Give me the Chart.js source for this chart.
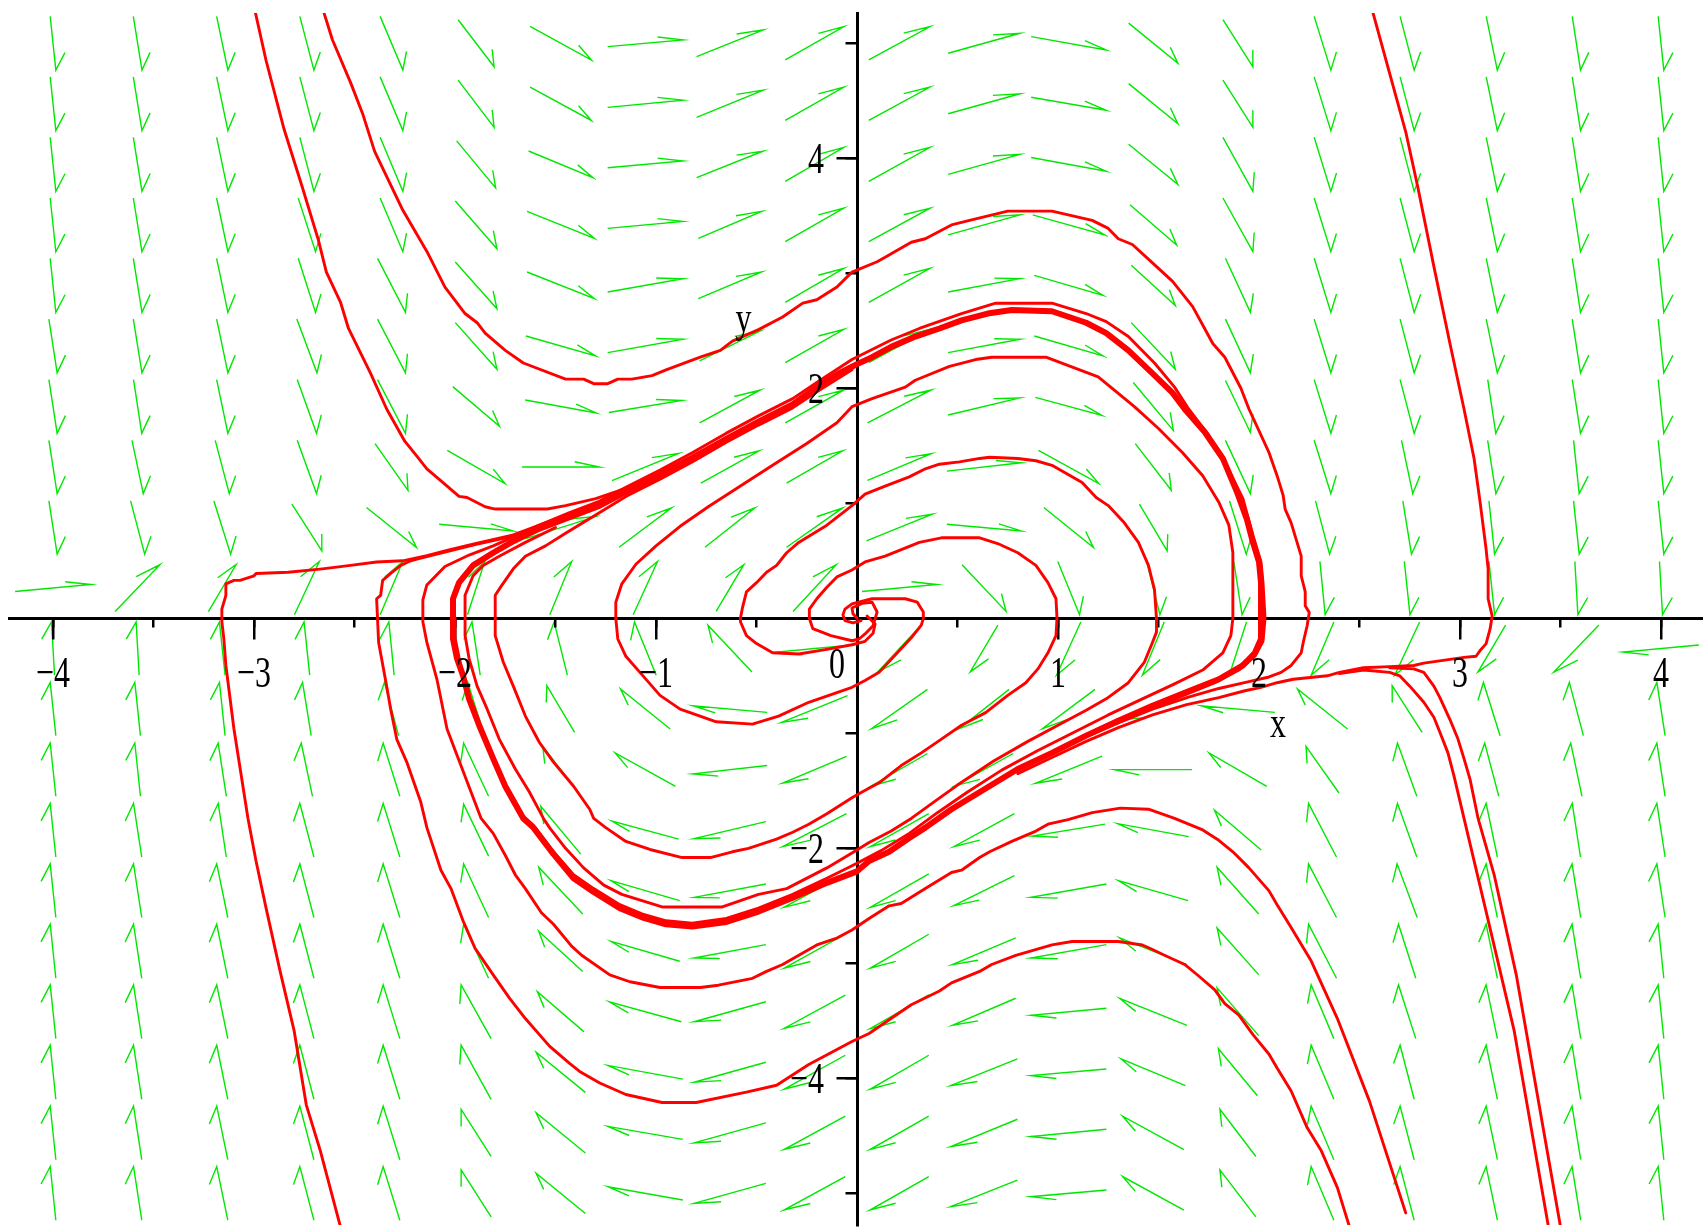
<!DOCTYPE html>
<html>
<head>
<meta charset="utf-8">
<script src="https://cdn.jsdelivr.net/npm/chart.js@4.4.1/dist/chart.umd.min.js"></script>
<style>
  html, body { margin: 0; padding: 0; background: #fff; }
  canvas { display: block; }
</style>
</head>
<body>
<canvas id="phase" width="1703" height="1227"></canvas>
<script>
// phase portrait: direction field (green) + trajectories (red)

// field grid
const gridX = [-4, -3.579, -3.158, -2.737, -2.316, -1.895, -1.474, -1.053, -0.632, -0.211, 0.211, 0.632, 1.053, 1.474, 1.895, 2.316, 2.737, 3.158, 3.579, 4];
const gridY = [5, 4.474, 3.947, 3.421, 2.895, 2.368, 1.842, 1.316, 0.789, 0.263, -0.263, -0.789, -1.316, -1.842, -2.368, -2.895, -3.421, -3.947, -4.474, -5];

// arrow components per row (top row first)
const fieldU = [
  [0.028,0.043,0.056,0.070,0.113,0.179,0.305,0.375,0.332,0.292,0.305,0.357,0.373,0.245,0.149,0.083,0.070,0.055,0.041,0.028],
  [0.028,0.043,0.056,0.070,0.113,0.179,0.305,0.375,0.332,0.292,0.305,0.357,0.373,0.245,0.149,0.083,0.070,0.055,0.041,0.028],
  [0.028,0.043,0.056,0.070,0.113,0.194,0.320,0.375,0.332,0.292,0.305,0.357,0.373,0.245,0.149,0.083,0.070,0.055,0.041,0.028],
  [0.028,0.043,0.056,0.086,0.113,0.207,0.335,0.375,0.315,0.292,0.305,0.357,0.358,0.232,0.149,0.083,0.070,0.055,0.041,0.028],
  [0.028,0.043,0.056,0.086,0.139,0.207,0.335,0.375,0.315,0.292,0.305,0.357,0.342,0.219,0.124,0.083,0.070,0.055,0.041,0.028],
  [0.041,0.043,0.056,0.100,0.139,0.207,0.347,0.375,0.302,0.292,0.305,0.357,0.342,0.219,0.124,0.083,0.070,0.055,0.041,0.028],
  [0.041,0.041,0.056,0.096,0.139,0.232,0.353,0.363,0.302,0.292,0.317,0.357,0.332,0.199,0.124,0.083,0.070,0.040,0.041,0.028],
  [0.041,0.056,0.070,0.096,0.164,0.287,0.385,0.332,0.290,0.279,0.317,0.370,0.300,0.179,0.124,0.083,0.056,0.041,0.028,0.028],
  [0.041,0.070,0.083,0.149,0.249,0.368,0.348,0.262,0.249,0.279,0.328,0.370,0.247,0.138,0.083,0.070,0.043,0.028,0.028,0.028],
  [0.377,0.224,0.138,0.124,0.113,0.086,0.109,0.121,0.138,0.215,0.372,0.219,0.108,0.066,0.041,0.026,0.028,0.028,0.015,0.015],
  [-0.015,-0.015,-0.028,-0.028,-0.026,-0.041,-0.066,-0.108,-0.219,-0.372,-0.215,-0.138,-0.121,-0.109,-0.086,-0.113,-0.124,-0.138,-0.224,-0.377],
  [-0.028,-0.028,-0.028,-0.043,-0.070,-0.083,-0.138,-0.247,-0.370,-0.328,-0.279,-0.249,-0.262,-0.348,-0.368,-0.249,-0.149,-0.083,-0.070,-0.041],
  [-0.028,-0.028,-0.041,-0.056,-0.083,-0.124,-0.179,-0.300,-0.370,-0.317,-0.279,-0.290,-0.332,-0.385,-0.287,-0.164,-0.096,-0.070,-0.056,-0.041],
  [-0.028,-0.041,-0.040,-0.070,-0.083,-0.124,-0.199,-0.332,-0.357,-0.317,-0.292,-0.302,-0.363,-0.353,-0.232,-0.139,-0.096,-0.056,-0.041,-0.041],
  [-0.028,-0.041,-0.055,-0.070,-0.083,-0.124,-0.219,-0.342,-0.357,-0.305,-0.292,-0.302,-0.375,-0.347,-0.207,-0.139,-0.100,-0.056,-0.043,-0.041],
  [-0.028,-0.041,-0.055,-0.070,-0.083,-0.124,-0.219,-0.342,-0.357,-0.305,-0.292,-0.315,-0.375,-0.335,-0.207,-0.139,-0.086,-0.056,-0.043,-0.028],
  [-0.028,-0.041,-0.055,-0.070,-0.083,-0.149,-0.232,-0.358,-0.357,-0.305,-0.292,-0.315,-0.375,-0.335,-0.207,-0.113,-0.086,-0.056,-0.043,-0.028],
  [-0.028,-0.041,-0.055,-0.070,-0.083,-0.149,-0.245,-0.373,-0.357,-0.305,-0.292,-0.332,-0.375,-0.320,-0.194,-0.113,-0.070,-0.056,-0.043,-0.028],
  [-0.028,-0.041,-0.055,-0.070,-0.083,-0.149,-0.245,-0.373,-0.357,-0.305,-0.292,-0.332,-0.375,-0.305,-0.179,-0.113,-0.070,-0.056,-0.043,-0.028],
  [-0.028,-0.041,-0.055,-0.070,-0.083,-0.149,-0.245,-0.373,-0.357,-0.305,-0.292,-0.332,-0.375,-0.305,-0.179,-0.113,-0.070,-0.056,-0.043,-0.028]
];
const fieldV = [
  [-0.467,-0.467,-0.467,-0.467,-0.467,-0.409,-0.293,0.058,0.232,0.290,0.290,0.174,-0.116,-0.350,-0.409,-0.467,-0.467,-0.467,-0.467,-0.467],
  [-0.467,-0.467,-0.467,-0.467,-0.467,-0.411,-0.290,0.063,0.237,0.290,0.290,0.174,-0.113,-0.350,-0.409,-0.467,-0.467,-0.467,-0.467,-0.467],
  [-0.470,-0.470,-0.470,-0.470,-0.470,-0.409,-0.232,0.058,0.232,0.296,0.296,0.174,-0.119,-0.350,-0.470,-0.470,-0.470,-0.470,-0.470,-0.470],
  [-0.467,-0.467,-0.467,-0.467,-0.467,-0.415,-0.235,0.061,0.235,0.293,0.290,0.174,-0.174,-0.350,-0.467,-0.467,-0.467,-0.467,-0.467,-0.467],
  [-0.470,-0.470,-0.470,-0.470,-0.470,-0.406,-0.232,0.116,0.232,0.296,0.296,0.116,-0.174,-0.350,-0.470,-0.470,-0.470,-0.470,-0.470,-0.470],
  [-0.467,-0.467,-0.467,-0.467,-0.467,-0.406,-0.174,0.116,0.261,0.290,0.290,0.116,-0.174,-0.406,-0.467,-0.467,-0.467,-0.467,-0.467,-0.467],
  [-0.467,-0.467,-0.467,-0.467,-0.467,-0.345,-0.113,0.104,0.287,0.287,0.287,0.148,-0.157,-0.417,-0.452,-0.467,-0.467,-0.467,-0.467,-0.467],
  [-0.463,-0.463,-0.463,-0.463,-0.406,-0.290,0.000,0.237,0.281,0.281,0.232,0.072,-0.290,-0.406,-0.463,-0.463,-0.463,-0.463,-0.463,-0.463],
  [-0.463,-0.463,-0.463,-0.406,-0.348,-0.058,0.191,0.342,0.342,0.342,0.232,-0.058,-0.348,-0.406,-0.463,-0.463,-0.463,-0.463,-0.463,-0.463],
  [0.061,0.409,0.409,0.463,0.463,0.463,0.463,0.463,0.406,0.406,0.061,-0.406,-0.463,-0.463,-0.463,-0.463,-0.463,-0.463,-0.463,-0.463],
  [0.463,0.463,0.463,0.463,0.463,0.463,0.463,0.463,0.406,-0.061,-0.406,-0.406,-0.463,-0.463,-0.463,-0.463,-0.463,-0.409,-0.409,-0.061],
  [0.463,0.463,0.463,0.463,0.463,0.463,0.406,0.348,0.058,-0.232,-0.342,-0.342,-0.342,-0.191,0.058,0.348,0.406,0.463,0.463,0.463],
  [0.463,0.463,0.463,0.463,0.463,0.463,0.406,0.290,-0.072,-0.232,-0.281,-0.281,-0.237,0.000,0.290,0.406,0.463,0.463,0.463,0.463],
  [0.467,0.467,0.467,0.467,0.467,0.452,0.417,0.157,-0.148,-0.287,-0.287,-0.287,-0.104,0.113,0.345,0.467,0.467,0.467,0.467,0.467],
  [0.467,0.467,0.467,0.467,0.467,0.467,0.406,0.174,-0.116,-0.290,-0.290,-0.261,-0.116,0.174,0.406,0.467,0.467,0.467,0.467,0.467],
  [0.470,0.470,0.470,0.470,0.470,0.470,0.350,0.174,-0.116,-0.296,-0.296,-0.232,-0.116,0.232,0.406,0.470,0.470,0.470,0.470,0.470],
  [0.467,0.467,0.467,0.467,0.467,0.467,0.350,0.174,-0.174,-0.290,-0.293,-0.235,-0.061,0.235,0.415,0.467,0.467,0.467,0.467,0.467],
  [0.470,0.470,0.470,0.470,0.470,0.470,0.350,0.119,-0.174,-0.296,-0.296,-0.232,-0.058,0.232,0.409,0.470,0.470,0.470,0.470,0.470],
  [0.467,0.467,0.467,0.467,0.467,0.409,0.350,0.113,-0.174,-0.290,-0.290,-0.237,-0.063,0.290,0.411,0.467,0.467,0.467,0.467,0.467],
  [0.467,0.467,0.467,0.467,0.467,0.409,0.350,0.116,-0.174,-0.290,-0.290,-0.232,-0.058,0.293,0.409,0.467,0.467,0.467,0.467,0.467]
];

// tick labels
const xTickLabels = [-4, -3, -2, -1, 0, 1, 2, 3, 4];
const yTickLabels = [4, 2, -2, -4];

// trajectories [x, y]
const limitCycle = [[-2.01,0],[-2.01,0.17],[-1.98,0.31],[-1.91,0.46],[-1.81,0.57],[-1.72,0.66],[-1.58,0.78],[-1.43,0.88],[-1.28,0.98],[-1.15,1.10],[-0.98,1.24],[-0.82,1.39],[-0.65,1.56],[-0.49,1.71],[-0.32,1.86],[-0.20,2.01],[-0.10,2.12],[0.00,2.21],[0.075,2.27],[0.17,2.36],[0.29,2.45],[0.41,2.52],[0.52,2.59],[0.65,2.65],[0.77,2.68],[0.97,2.67],[1.14,2.57],[1.24,2.48],[1.35,2.33],[1.47,2.13],[1.57,1.96],[1.63,1.82],[1.73,1.62],[1.82,1.39],[1.89,1.10],[1.94,0.86],[1.97,0.66],[2.00,0.49],[2.01,0.31],[2.01,0],[2.01,-0.18],[1.98,-0.30],[1.92,-0.41],[1.80,-0.53],[1.64,-0.64],[1.47,-0.76],[1.30,-0.89],[1.14,-1.02],[0.97,-1.17],[0.80,-1.31],[0.64,-1.48],[0.47,-1.66],[0.34,-1.82],[0.26,-1.91],[0.16,-2.03],[0.06,-2.11],[0.00,-2.20],[-0.15,-2.30],[-0.32,-2.43],[-0.49,-2.55],[-0.65,-2.64],[-0.82,-2.68],[-0.95,-2.66],[-1.07,-2.60],[-1.18,-2.52],[-1.31,-2.38],[-1.41,-2.26],[-1.51,-2.05],[-1.61,-1.82],[-1.66,-1.74],[-1.75,-1.46],[-1.81,-1.22],[-1.88,-0.93],[-1.93,-0.70],[-1.96,-0.50],[-1.99,-0.35],[-2.01,-0.18],[-2.01,0]];

const curveA1 = [[-3.0,5.32],[-2.94,4.85],[-2.85,4.25],[-2.76,3.75],[-2.68,3.29],[-2.64,3.01],[-2.57,2.75],[-2.53,2.52],[-2.42,2.13],[-2.34,1.82],[-2.25,1.54],[-2.19,1.41],[-2.14,1.30],[-2.08,1.21],[-1.98,1.06],[-1.94,1.05],[-1.85,0.97],[-1.80,0.95],[-1.54,0.95],[-1.45,0.98],[-1.30,1.04],[-1.15,1.13],[-0.98,1.27],[-0.82,1.41],[-0.65,1.57],[-0.49,1.72],[-0.32,1.87],[-0.20,2.02],[-0.10,2.13],[0.0,2.22]];

const curveA2 = [[-2.66,5.31],[-2.61,5.03],[-2.52,4.66],[-2.46,4.39],[-2.40,4.06],[-2.26,3.55],[-2.14,3.19],[-2.05,2.88],[-1.95,2.65],[-1.89,2.57],[-1.85,2.48],[-1.75,2.33],[-1.66,2.22],[-1.45,2.08],[-1.36,2.08],[-1.31,2.04],[-1.24,2.04],[-1.19,2.08],[-1.12,2.08],[-1.02,2.11],[-0.95,2.16],[-0.78,2.27],[-0.68,2.33],[-0.62,2.41],[-0.49,2.51],[-0.37,2.62],[-0.27,2.74],[-0.20,2.77],[-0.10,2.88],[-0.025,3.01],[0.10,3.10],[0.14,3.14],[0.22,3.22],[0.27,3.27],[0.34,3.30],[0.47,3.42],[0.56,3.46],[0.75,3.54],[0.97,3.54],[1.17,3.46],[1.25,3.39],[1.30,3.30],[1.37,3.25],[1.47,3.09],[1.57,2.93],[1.67,2.71],[1.72,2.55],[1.77,2.39],[1.83,2.27],[1.91,2.00],[1.95,1.82],[2.05,1.44],[2.09,1.24],[2.12,1.07],[2.13,0.95],[2.16,0.83],[2.21,0.54],[2.21,0.37],[2.23,0.23],[2.23,0.11],[2.25,0.05],[2.24,-0.06],[2.22,-0.21],[2.21,-0.30],[2.16,-0.41],[2.11,-0.47],[2.05,-0.51],[1.95,-0.55],[1.80,-0.61],[1.64,-0.69],[1.47,-0.79],[1.30,-0.91],[1.14,-1.03],[0.97,-1.18]];

const curveT3 = [[-2.57,-5.29],[-2.67,-4.63],[-2.74,-4.23],[-2.80,-3.59],[-2.87,-3.07],[-2.94,-2.52],[-2.99,-2.11],[-3.03,-1.74],[-3.10,-0.96],[-3.14,-0.41],[-3.15,-0.18],[-3.16,-0.03],[-3.16,0.08],[-3.14,0.20],[-3.14,0.30],[-3.10,0.33],[-3.07,0.33],[-3.00,0.37],[-2.99,0.39],[-2.83,0.40],[-2.66,0.43],[-2.52,0.46],[-2.39,0.49],[-2.26,0.50],[-2.18,0.53],[-2.14,0.545],[-2.04,0.59],[-1.90,0.65],[-1.72,0.72],[-1.58,0.81],[-1.43,0.91],[-1.28,1.01],[-1.15,1.12]];

const curveT4 = [[2.45,-5.29],[2.39,-4.95],[2.31,-4.63],[2.24,-4.43],[2.16,-4.11],[2.09,-3.91],[2.05,-3.79],[1.97,-3.62],[1.90,-3.45],[1.83,-3.35],[1.78,-3.23],[1.70,-3.11],[1.63,-3.01],[1.53,-2.93],[1.47,-2.88],[1.42,-2.84],[1.30,-2.81],[1.07,-2.81],[0.97,-2.84],[0.79,-2.93],[0.67,-3.01],[0.61,-3.07],[0.47,-3.17],[0.41,-3.24],[0.27,-3.36],[0.16,-3.49],[0.06,-3.61],[-0.025,-3.68],[-0.24,-3.88],[-0.40,-4.06],[-0.55,-4.12],[-0.80,-4.21],[-0.97,-4.21],[-1.15,-4.14],[-1.28,-4.04],[-1.38,-3.94],[-1.43,-3.87],[-1.53,-3.72],[-1.65,-3.48],[-1.73,-3.30],[-1.81,-3.10],[-1.90,-2.87],[-1.96,-2.63],[-2.02,-2.35],[-2.07,-2.19],[-2.14,-1.82],[-2.17,-1.60],[-2.24,-1.25],[-2.29,-1.05],[-2.32,-0.79],[-2.34,-0.59],[-2.38,-0.21],[-2.39,0.17],[-2.37,0.20],[-2.36,0.33],[-2.32,0.39],[-2.27,0.46],[-2.22,0.50],[-2.18,0.52],[-2.04,0.58],[-1.90,0.64],[-1.72,0.71]];

const curveB1 = [[2.73,-5.17],[2.55,-4.20],[2.39,-3.48],[2.26,-2.98],[2.15,-2.66],[2.09,-2.49],[2.05,-2.37],[1.95,-2.17],[1.87,-2.03],[1.80,-1.93],[1.72,-1.84],[1.58,-1.74],[1.45,-1.66],[1.31,-1.65],[1.17,-1.69],[1.05,-1.75],[0.95,-1.79],[0.89,-1.85],[0.77,-1.94],[0.66,-2.03],[0.61,-2.08],[0.52,-2.19],[0.47,-2.21],[0.34,-2.35],[0.22,-2.48],[0.16,-2.50],[0.06,-2.61],[-0.025,-2.71],[-0.10,-2.78],[-0.20,-2.84],[-0.37,-3.01],[-0.45,-3.07],[-0.52,-3.13],[-0.69,-3.19],[-0.78,-3.21],[-0.98,-3.21],[-1.13,-3.16],[-1.23,-3.10],[-1.37,-2.93],[-1.42,-2.85],[-1.51,-2.66],[-1.57,-2.56],[-1.65,-2.35],[-1.70,-2.23],[-1.75,-2.06],[-1.81,-1.87],[-1.87,-1.74],[-1.99,-1.19],[-2.04,-0.96],[-2.09,-0.53],[-2.14,-0.21],[-2.16,-0.03],[-2.16,0.16],[-2.14,0.29],[-2.05,0.45],[-1.93,0.55],[-1.81,0.63],[-1.72,0.70],[-1.58,0.81],[-1.43,0.92],[-1.28,1.02],[-1.15,1.14],[-0.98,1.29],[-0.82,1.44],[-0.65,1.61],[-0.49,1.76],[-0.32,1.91],[-0.20,2.05],[-0.025,2.25],[0.17,2.42],[0.31,2.52],[0.52,2.65],[0.69,2.74],[0.97,2.74],[1.14,2.65],[1.24,2.58],[1.35,2.45],[1.48,2.22],[1.58,2.01],[1.65,1.82],[1.75,1.59],[1.83,1.36],[1.92,1.04],[1.97,0.72],[2.01,0.49],[2.02,0.31],[2.03,0],[2.02,-0.2],[1.98,-0.33],[1.90,-0.45],[1.78,-0.56],[1.64,-0.66],[1.47,-0.78],[1.30,-0.90]];

const curveT5 = [[2.56,5.31],[2.73,4.23],[2.79,3.75],[2.87,3.06],[2.95,2.39],[3.02,1.82],[3.07,1.39],[3.10,1.01],[3.13,0.60],[3.14,0.43],[3.14,0.17],[3.16,0.02],[3.15,-0.09],[3.13,-0.22],[3.10,-0.28],[3.08,-0.33],[3.02,-0.34],[2.82,-0.39],[2.77,-0.41],[2.65,-0.42],[2.52,-0.43],[2.40,-0.47],[2.34,-0.50],[2.17,-0.53],[2.09,-0.56],[2.01,-0.60],[1.93,-0.63],[1.80,-0.69],[1.64,-0.75],[1.47,-0.84],[1.30,-0.95],[1.14,-1.07],[0.97,-1.21],[0.80,-1.35]];

const curveC1 = [[3.44,-5.29],[3.27,-3.59],[3.13,-2.55],[3.02,-1.74],[2.97,-1.37],[2.94,-1.17],[2.90,-0.99],[2.87,-0.86],[2.82,-0.73],[2.75,-0.59],[2.70,-0.50],[2.65,-0.47],[2.52,-0.45],[2.40,-0.48]];
const curveC2 = [[3.50,-5.29],[3.28,-3.10],[3.17,-2.23],[3.09,-1.74],[3.05,-1.40],[3.02,-1.22],[2.99,-1.05],[2.95,-0.88],[2.90,-0.69],[2.87,-0.59],[2.82,-0.47],[2.77,-0.44],[2.65,-0.43]];

const spiralA = [[0.02,-0.02],[-0.02,-0.04],[-0.06,-0.02],[-0.07,0.03],[-0.06,0.08],[-0.025,0.125],[0.075,0.17],[0.24,0.17],[0.30,0.14],[0.33,0.055],[0.33,0],[0.32,-0.06],[0.27,-0.17],[0.19,-0.32],[0.11,-0.47],[0.04,-0.54],[-0.025,-0.60],[-0.24,-0.73],[-0.39,-0.85],[-0.52,-0.92],[-0.70,-0.90],[-0.88,-0.79],[-0.98,-0.67],[-1.08,-0.47],[-1.15,-0.33],[-1.19,-0.18],[-1.20,0],[-1.20,0.14],[-1.17,0.30],[-1.10,0.47],[-1.00,0.63],[-0.88,0.80],[-0.74,0.97],[-0.58,1.15],[-0.42,1.33],[-0.25,1.52],[-0.10,1.70],[-0.025,1.84],[0.075,1.91],[0.24,2.01],[0.29,2.07],[0.46,2.19],[0.59,2.25],[0.67,2.27],[0.94,2.27],[1.20,2.10],[1.38,1.84],[1.50,1.65],[1.62,1.44],[1.72,1.24],[1.80,1.01],[1.85,0.81],[1.87,0.57],[1.87,0.37],[1.87,0.20],[1.87,0],[1.86,-0.15],[1.82,-0.30],[1.72,-0.45],[1.58,-0.57],[1.42,-0.70],[1.25,-0.84],[1.08,-0.99],[0.90,-1.15],[0.72,-1.32],[0.55,-1.51],[0.40,-1.69],[0.26,-1.87],[0.12,-2.02],[0.0,-2.13],[-0.15,-2.26],[-0.32,-2.40],[-0.49,-2.52],[-0.65,-2.61],[-0.82,-2.65],[-0.95,-2.63],[-1.07,-2.57],[-1.18,-2.49],[-1.31,-2.35],[-1.41,-2.23],[-1.51,-2.03],[-1.61,-1.80],[-1.66,-1.72],[-1.75,-1.44],[-1.81,-1.20],[-1.88,-0.92],[-1.93,-0.69],[-1.96,-0.49],[-1.98,-0.34],[-2.0,-0.17],[-2.0,0]];

const spiralB = [[0.0,0.0],[-0.02,0.04],[-0.025,0.09],[0.025,0.13],[0.075,0.14],[0.10,0.055],[0.08,-0.064],[0.04,-0.136],[0.01,-0.18],[-0.025,-0.195],[-0.13,-0.15],[-0.22,-0.09],[-0.237,0],[-0.237,0.08],[-0.20,0.17],[-0.15,0.27],[-0.10,0.36],[-0.025,0.42],[0.04,0.49],[0.14,0.54],[0.31,0.66],[0.42,0.70],[0.61,0.70],[0.70,0.65],[0.80,0.57],[0.89,0.46],[0.95,0.31],[0.99,0.17],[0.995,0],[0.99,-0.15],[0.95,-0.30],[0.90,-0.44],[0.84,-0.56],[0.75,-0.67],[0.64,-0.82],[0.52,-0.93],[0.42,-1.05],[0.32,-1.17],[0.22,-1.28],[0.11,-1.43],[0.025,-1.51],[-0.025,-1.56],[-0.15,-1.70],[-0.24,-1.79],[-0.32,-1.86],[-0.40,-1.92],[-0.54,-2.00],[-0.62,-2.03],[-0.73,-2.08],[-0.87,-2.08],[-1.03,-2.01],[-1.15,-1.94],[-1.25,-1.82],[-1.31,-1.74],[-1.33,-1.66],[-1.41,-1.46],[-1.51,-1.25],[-1.58,-1.08],[-1.65,-0.85],[-1.71,-0.59],[-1.76,-0.38],[-1.80,-0.15],[-1.80,0.06],[-1.80,0.20],[-1.77,0.28],[-1.71,0.43],[-1.65,0.54],[-1.55,0.63],[-1.45,0.74],[-1.28,0.92],[-1.15,1.06],[-0.98,1.21],[-0.82,1.36],[-0.65,1.53],[-0.49,1.68],[-0.32,1.83],[-0.20,1.97],[-0.025,2.16]];

const spiralC = [[0.05,0.02],[0.09,-0.05],[0.08,-0.13],[0.04,-0.2],[-0.025,-0.23],[-0.15,-0.27],[-0.29,-0.31],[-0.42,-0.30],[-0.50,-0.22],[-0.55,-0.15],[-0.58,-0.03],[-0.58,0],[-0.57,0.09],[-0.55,0.23],[-0.50,0.31],[-0.45,0.40],[-0.40,0.46],[-0.35,0.57],[-0.29,0.66],[-0.15,0.81],[-0.025,0.98],[0.04,1.08],[0.14,1.15],[0.26,1.23],[0.34,1.30],[0.41,1.34],[0.51,1.36],[0.61,1.39],[0.66,1.40],[0.80,1.39],[0.89,1.37],[0.97,1.33],[1.12,1.18],[1.19,1.05],[1.25,0.98],[1.33,0.83],[1.40,0.66],[1.45,0.46],[1.48,0.25],[1.49,0],[1.49,-0.12],[1.47,-0.21],[1.43,-0.38],[1.35,-0.56],[1.24,-0.70],[1.14,-0.80],[1.0,-0.93],[0.85,-1.07],[0.68,-1.24],[0.50,-1.45],[0.38,-1.60],[0.27,-1.74],[0.17,-1.85],[0.06,-1.95],[-0.025,-2.04],[-0.15,-2.17],[-0.35,-2.35],[-0.49,-2.40],[-0.67,-2.51],[-0.97,-2.51],[-1.17,-2.40],[-1.26,-2.32],[-1.36,-2.17],[-1.45,-2.00],[-1.53,-1.82],[-1.56,-1.74],[-1.63,-1.51],[-1.70,-1.31],[-1.78,-1.05],[-1.84,-0.79],[-1.89,-0.59],[-1.93,-0.35],[-1.95,-0.15],[-1.95,0],[-1.95,0.20],[-1.91,0.37],[-1.86,0.46],[-1.78,0.54],[-1.65,0.66],[-1.50,0.79]];

const trajectories = [curveA1, curveA2, curveT3, curveT4, curveB1, curveT5, curveC1, curveC2, spiralA, spiralB, spiralC];

const RED = "#ff0000";
const GREEN = "rgb(0,232,0)";
const LABEL_FONT = '32px "Liberation Serif", "Times New Roman", serif';

function redLine(data, width){
  return { data, showLine: true, borderColor: RED, borderWidth: width, borderJoinStyle: "round", borderCapStyle: "round", pointRadius: 0, fill: false, tension: 0 };
}

const datasets = [redLine(limitCycle, 6)].concat(trajectories.map(d => redLine(d, 2.9)));

// draws the direction field arrows (shaft + one barb at the tip)
const fieldPlugin = {
  id: "field",
  beforeDraw(chart){
    const { ctx, scales } = chart;
    const sx = scales.x, sy = scales.y;
    const c = Math.cos(20 * Math.PI / 180), s = Math.sin(20 * Math.PI / 180), k = 0.34;
    ctx.save();
    ctx.fillStyle = "#fff";
    ctx.fillRect(0, 0, chart.width, chart.height);
    ctx.strokeStyle = GREEN;
    ctx.lineWidth = 1.4;
    ctx.beginPath();
    for (let r = 0; r < gridY.length; r++){
      for (let i = 0; i < gridX.length; i++){
        const u = fieldU[r][i], v = fieldV[r][i];
        const x0 = gridX[i] - u / 2, y0 = gridY[r] - v / 2;
        const x1 = gridX[i] + u / 2, y1 = gridY[r] + v / 2;
        const bx = k * (-u * c - v * s), by = k * (u * s - v * c);
        ctx.moveTo(sx.getPixelForValue(x0), sy.getPixelForValue(y0));
        ctx.lineTo(sx.getPixelForValue(x1), sy.getPixelForValue(y1));
        ctx.lineTo(sx.getPixelForValue(x1 + bx), sy.getPixelForValue(y1 + by));
      }
    }
    ctx.stroke();
    ctx.restore();
  }
};

function tallText(ctx, text, px, py, align){
  ctx.save();
  ctx.translate(px, py);
  ctx.scale(1, 1.4);
  ctx.textAlign = align;
  ctx.textBaseline = "alphabetic";
  ctx.fillText(text, 0, 0);
  ctx.restore();
}
function fmt(v){ return v < 0 ? "\u2212" + Math.abs(v) : String(v); }

// Maple-style labels (tall serif digits)
const labelPlugin = {
  id: "labels",
  afterDraw(chart){
    const { ctx, scales } = chart;
    const sx = scales.x, sy = scales.y;
    const px0 = sx.getPixelForValue(0), py0 = sy.getPixelForValue(0);
    ctx.save();
    ctx.fillStyle = "#000";
    ctx.font = LABEL_FONT;
    for (const v of xTickLabels){
      if (v === 0) tallText(ctx, "0", px0 - 20, py0 + 60, "center");
      else tallText(ctx, fmt(v), sx.getPixelForValue(v), py0 + 69, "center");
    }
    for (const v of yTickLabels){
      tallText(ctx, fmt(v), px0 - 33, sy.getPixelForValue(v) + 14.5, "right");
    }
    tallText(ctx, "x", sx.getPixelForValue(2.095), sy.getPixelForValue(-1.03), "center");
    tallText(ctx, "y", sx.getPixelForValue(-0.565), sy.getPixelForValue(2.49), "center");
    ctx.restore();
  }
};

function axisScale(axis, pos, min, max, step, len, border){
  return {
    type: "linear", axis, position: pos, min, max,
    ticks: { display: false, stepSize: step, includeBounds: false },
    grid: { display: true, drawOnChartArea: false, drawTicks: true, tickLength: len, tickWidth: 2.5, tickColor: "#000", lineWidth: 2.5, color: "#000" },
    border: { display: border, width: 3, color: "#000" }
  };
}

new Chart(document.getElementById("phase"), {
  type: "scatter",
  data: { datasets },
  options: {
    responsive: false,
    animation: false,
    events: [],
    layout: { padding: { left: 9, right: 0, top: 13, bottom: 2 } },
    plugins: { legend: { display: false }, tooltip: { enabled: false } },
    scales: {
      x: axisScale("x", { y: 0 }, -4.219, 4.209, 1, 19.5, true),
      x2: axisScale("x", { y: 0 }, -4.219, 4.209, 0.5, 9.5, false),
      y: axisScale("y", { x: 0 }, -5.275, 5.263, 2, 19.5, true),
      y2: axisScale("y", { x: 0 }, -5.275, 5.263, 1, 11.5, false)
    }
  },
  plugins: [fieldPlugin, labelPlugin]
});
</script>
</body>
</html>
